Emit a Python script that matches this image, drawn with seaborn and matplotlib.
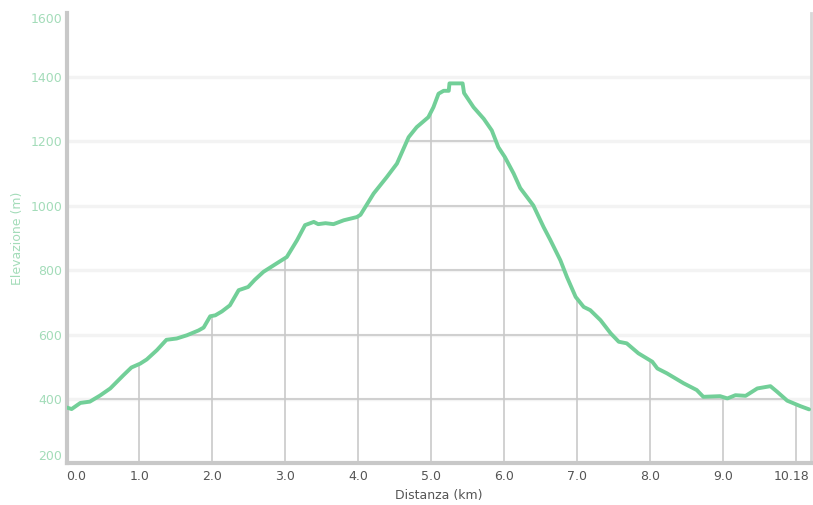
import matplotlib
matplotlib.use('Agg')
import matplotlib.pyplot as plt
from matplotlib.patches import Polygon
import seaborn as sns
import pandas as pd

# Elevation profile
dist_km = [0.00, 0.07, 0.19, 0.32, 0.46, 0.60, 0.78, 0.89, 1.01, 1.10, 1.24, 1.37, 1.51, 1.65,
           1.81, 1.88, 1.97, 2.04, 2.13, 2.24, 2.36, 2.49, 2.58, 2.70, 2.88, 3.02, 3.16, 3.27,
           3.39, 3.45, 3.55, 3.66, 3.80, 3.98, 4.03, 4.21, 4.39, 4.53, 4.69, 4.80, 4.96, 5.03,
           5.10, 5.17, 5.24, 5.25, 5.43, 5.45, 5.58, 5.72, 5.83, 5.92, 6.01, 6.13, 6.22, 6.40,
           6.54, 6.63, 6.77, 6.86, 6.98, 7.09, 7.18, 7.32, 7.46, 7.57, 7.68, 7.84, 8.03, 8.10,
           8.23, 8.46, 8.64, 8.73, 8.96, 9.06, 9.17, 9.31, 9.47, 9.65, 9.74, 9.88, 10.06, 10.18]
elev_m = [374, 369, 388, 392, 411, 433, 474, 498, 510, 523, 552, 584, 588, 598,
          613, 622, 657, 660, 672, 691, 738, 748, 770, 795, 821, 841, 893, 940,
          950, 943, 946, 943, 955, 965, 972, 1038, 1089, 1131, 1213, 1244, 1275, 1306,
          1348, 1357, 1357, 1380, 1380, 1350, 1306, 1270, 1234, 1182, 1151, 1100, 1055, 1001,
          934, 895, 831, 779, 717, 686, 676, 645, 604, 578, 573, 542, 516, 495,
          480, 449, 428, 407, 409, 402, 412, 410, 433, 440, 423, 395, 378, 368]

y_ticks = [200, 400, 600, 800, 1000, 1200, 1400, 1600]
x_ticks = [0, 1, 2, 3, 4, 5, 6, 7, 8, 9, 10.18]
x_labels = ['0.0', '1.0', '2.0', '3.0', '4.0', '5.0', '6.0', '7.0', '8.0', '9.0', '10.18']
x_grid = [1, 2, 3, 4, 5, 6, 7, 8, 9, 10]

df = pd.DataFrame({'Distanza': dist_km, 'Elevazione': elev_m})

sns.set_style('white')
plt.rcParams['font.family'] = ['DejaVu Sans']

fig = plt.figure(figsize=(8.13, 5.05), dpi=100)
ax = fig.add_axes([0.0818, 0.0822, 0.9152, 0.893])

green = '#72cf98'
light_green = '#a3dcb9'
grid_dark = '#c9c9c9'
grid_light = '#f3f3f3'

ax.set_xlim(0, 10.2)
ax.set_ylim(200, 1600)

# faint horizontal grid over the whole plot
for y in y_ticks[1:-1]:
    ax.axhline(y, color=grid_light, lw=2.5, zorder=1)

# area under the curve used as clip for darker grid
verts = [(0, 200)] + list(zip(dist_km, elev_m)) + [(dist_km[-1], 200)]
area = Polygon(verts, closed=True, facecolor='none', edgecolor='none')
ax.add_patch(area)
for y in y_ticks[1:-1]:
    ln = ax.axhline(y, color=grid_dark, lw=1.2, zorder=2)
    ln.set_clip_path(area)
for x in x_grid:
    ln = ax.axvline(x, color=grid_dark, lw=1.2, zorder=2)
    ln.set_clip_path(area)

sns.lineplot(data=df, x='Distanza', y='Elevazione', ax=ax, color=green, lw=2.8, zorder=3)

ax.set_xticks(x_ticks)
ax.set_xticklabels(x_labels, color='#555555', fontsize=9)
ax.set_yticks(y_ticks)
ax.set_yticklabels([str(v) for v in y_ticks], color=light_green, fontsize=9)
ax.tick_params(axis='both', length=0)
ax.tick_params(axis='x', pad=5)
ax.tick_params(axis='y', pad=3)
xl = ax.get_xticklabels()
xl[0].set_ha('left')
xl[-1].set_ha('right')
yl = ax.get_yticklabels()
yl[0].set_va('bottom')
yl[-1].set_va('top')

ax.set_xlabel('Distanza (km)', color='#555555', fontsize=9, labelpad=4)
ax.set_ylabel('Elevazione (m)', color=light_green, fontsize=9, labelpad=5)

for side in ['left', 'bottom']:
    ax.spines[side].set_color('#c8c8c8')
    ax.spines[side].set_linewidth(3)
ax.spines['right'].set_color('#d8d8d8')
ax.spines['right'].set_linewidth(2)
ax.spines['top'].set_visible(False)

fig.savefig('out.png', dpi=100)
